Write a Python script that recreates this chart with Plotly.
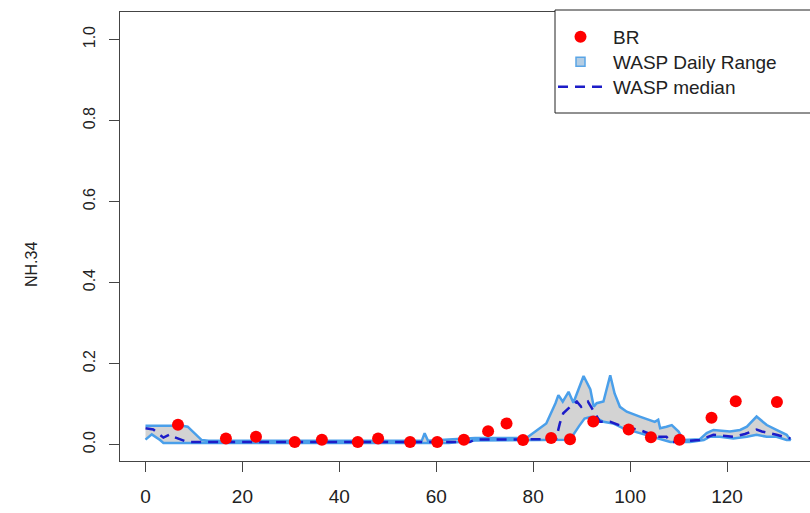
import plotly.graph_objects as go

# ---- data ----
br_day = [6.7, 16.6, 22.8, 30.8, 36.4, 43.8, 48.0, 54.6, 60.2, 65.7, 70.7,
          74.5, 77.9, 83.7, 87.6, 92.4, 99.7, 104.3, 110.2, 116.8, 121.8, 130.3]
br_val = [0.049, 0.015, 0.019, 0.006, 0.012, 0.006, 0.015, 0.006, 0.006, 0.012, 0.033,
          0.052, 0.011, 0.016, 0.013, 0.057, 0.037, 0.018, 0.012, 0.066, 0.107, 0.105]

upper_day = [0, 7.6, 8.7, 11.6, 13.0, 57.0, 57.6, 58.3, 63.4, 68.0, 78.6, 81.0, 82.7,
             84.6, 85.2, 86.1, 87.3, 88.3, 90.4, 91.8, 92.5, 93.1, 94.5, 95.9, 96.8,
             97.9, 99.3, 102.0, 105.1, 105.8, 106.2, 107.5, 108.6, 110.0, 111.0, 114.4,
             115.8, 117.2, 120.6, 122.7, 124.1, 126.1, 128.2, 130.2, 132.3, 133.1]
upper_val = [0.046, 0.046, 0.044, 0.011, 0.009, 0.009, 0.028, 0.009, 0.013, 0.016, 0.016,
             0.036, 0.052, 0.102, 0.122, 0.106, 0.130, 0.103, 0.169, 0.136, 0.093, 0.102,
             0.106, 0.171, 0.126, 0.093, 0.081, 0.069, 0.056, 0.061, 0.040, 0.044, 0.048,
             0.032, 0.011, 0.013, 0.028, 0.036, 0.032, 0.036, 0.044, 0.069, 0.048, 0.036,
             0.024, 0.011]

lower_day = [0, 1.3, 3.0, 3.7, 62.6, 68.0, 87.6, 89.5, 90.6, 91.8, 92.7, 94.5, 96.5,
             98.6, 102.0, 104.8, 106.9, 108.3, 112.4, 115.2, 116.4, 118.5, 121.3, 124.1,
             126.1, 128.2, 130.2, 132.3, 133.1]
lower_val = [0.012, 0.025, 0.011, 0.004, 0.004, 0.010, 0.012, 0.046, 0.064, 0.068, 0.068,
             0.056, 0.052, 0.040, 0.028, 0.019, 0.011, 0.006, 0.006, 0.011, 0.019, 0.019,
             0.015, 0.019, 0.024, 0.019, 0.019, 0.011, 0.011]

median_day = [0, 1.6, 3.7, 5.1, 6.0, 7.4, 8.7, 66.9, 68.0, 84.7, 85.5, 86.2, 87.6, 89.0,
              89.9, 91.3, 92.1, 93.8, 95.9, 98.6, 102.0, 105.5, 107.5, 108.6, 114.3, 117.2,
              121.3, 123.7, 126.1, 127.2, 130.2, 132.0, 133.1]
median_val = [0.040, 0.037, 0.017, 0.025, 0.018, 0.011, 0.006, 0.006, 0.012, 0.013, 0.052,
              0.077, 0.093, 0.106, 0.093, 0.106, 0.089, 0.056, 0.056, 0.044, 0.036, 0.019,
              0.019, 0.006, 0.011, 0.024, 0.019, 0.026, 0.037, 0.032, 0.024, 0.019, 0.015]

y_ticks = [0.0, 0.2, 0.4, 0.6, 0.8, 1.0]
y_tick_text = ["0.0", "0.2", "0.4", "0.6", "0.8", "1.0"]
x_ticks = [0, 20, 40, 60, 80, 100, 120]

FONT = "Liberation Sans, Arial, sans-serif"

# plot-area geometry (pixels)
L, R, T, B = 120, 810, 12, 461
W, H = 810, 513

fig = go.Figure()

# daily range band (polygon: upper then reversed lower)
fig.add_trace(go.Scatter(
    x=upper_day + lower_day[::-1],
    y=upper_val + lower_val[::-1],
    mode="lines", fill="toself",
    fillcolor="#d3d3d3",
    line=dict(color="#4a9fea", width=2.5),
    name="WASP Daily Range", showlegend=False, hoverinfo="skip",
))
# legend proxy for the band
fig.add_trace(go.Scatter(
    x=[None], y=[None], mode="markers",
    marker=dict(symbol="square", size=9, color="#b4cde3",
                line=dict(color="#5aa5e6", width=1.5)),
    name="WASP Daily Range", legend="legend2",
))

fig.add_trace(go.Scatter(
    x=median_day, y=median_val, mode="lines",
    line=dict(color="#1c1cc8", width=2.5, dash="10px,7px"),
    name="WASP median", legend="legend3",
))

fig.add_trace(go.Scatter(
    x=br_day, y=br_val, mode="markers",
    marker=dict(color="#ff0000", size=12, line=dict(width=0)),
    name="BR", legend="legend",
))

def px_x(p):
    return (p - L) / (R - L)

def px_y(p):
    return (B - p) / (B - T)

def leg(top, left=548, iw=55):
    return dict(
        x=px_x(left), y=px_y(top), xanchor="left", yanchor="top",
        borderwidth=0, bgcolor="rgba(0,0,0,0)",
        font=dict(family=FONT, size=19, color="#222"),
        itemwidth=iw, tracegroupgap=0,
    )

fig.update_layout(
    width=W, height=H,
    margin=dict(l=L, r=W - R, t=T, b=H - B),
    paper_bgcolor="white", plot_bgcolor="white",
    font=dict(family=FONT, size=16, color="#222"),
    showlegend=True,
    legend=leg(18),
    legend2=leg(43),
    legend3=leg(68, left=553, iw=50),
    shapes=[dict(
        type="rect", xref="paper", yref="paper",
        x0=px_x(555), x1=px_x(830), y0=px_y(113), y1=px_y(10),
        line=dict(color="#222", width=1), fillcolor="white", layer="above",
    )],
    annotations=[dict(
        text="NH.34", xref="paper", yref="paper",
        x=px_x(31), y=px_y(265), xanchor="center", yanchor="middle",
        textangle=-90, showarrow=False,
        font=dict(family=FONT, size=16, color="#222"),
    )],
    xaxis=dict(
        range=[(L - 145.5) / 4.846, (R - 145.5) / 4.846],
        tickvals=x_ticks, ticks="outside", ticklen=10, tickcolor="#444",
        showline=True, mirror=True, linecolor="#444", linewidth=1,
        showgrid=False, zeroline=False, ticklabelstandoff=8,
        tickfont=dict(family=FONT, size=19, color="#222"),
    ),
    yaxis=dict(
        range=[(444.5 - B) / 405, (444.5 - T) / 405],
        tickvals=y_ticks, ticktext=y_tick_text, tickangle=-90,
        ticks="outside", ticklen=10, tickcolor="#444",
        showline=True, mirror=False, linecolor="#444", linewidth=1,
        showgrid=False, zeroline=False, ticklabelstandoff=8,
        tickfont=dict(family=FONT, size=16, color="#222"),
    ),
)

fig.write_html("out.html")
